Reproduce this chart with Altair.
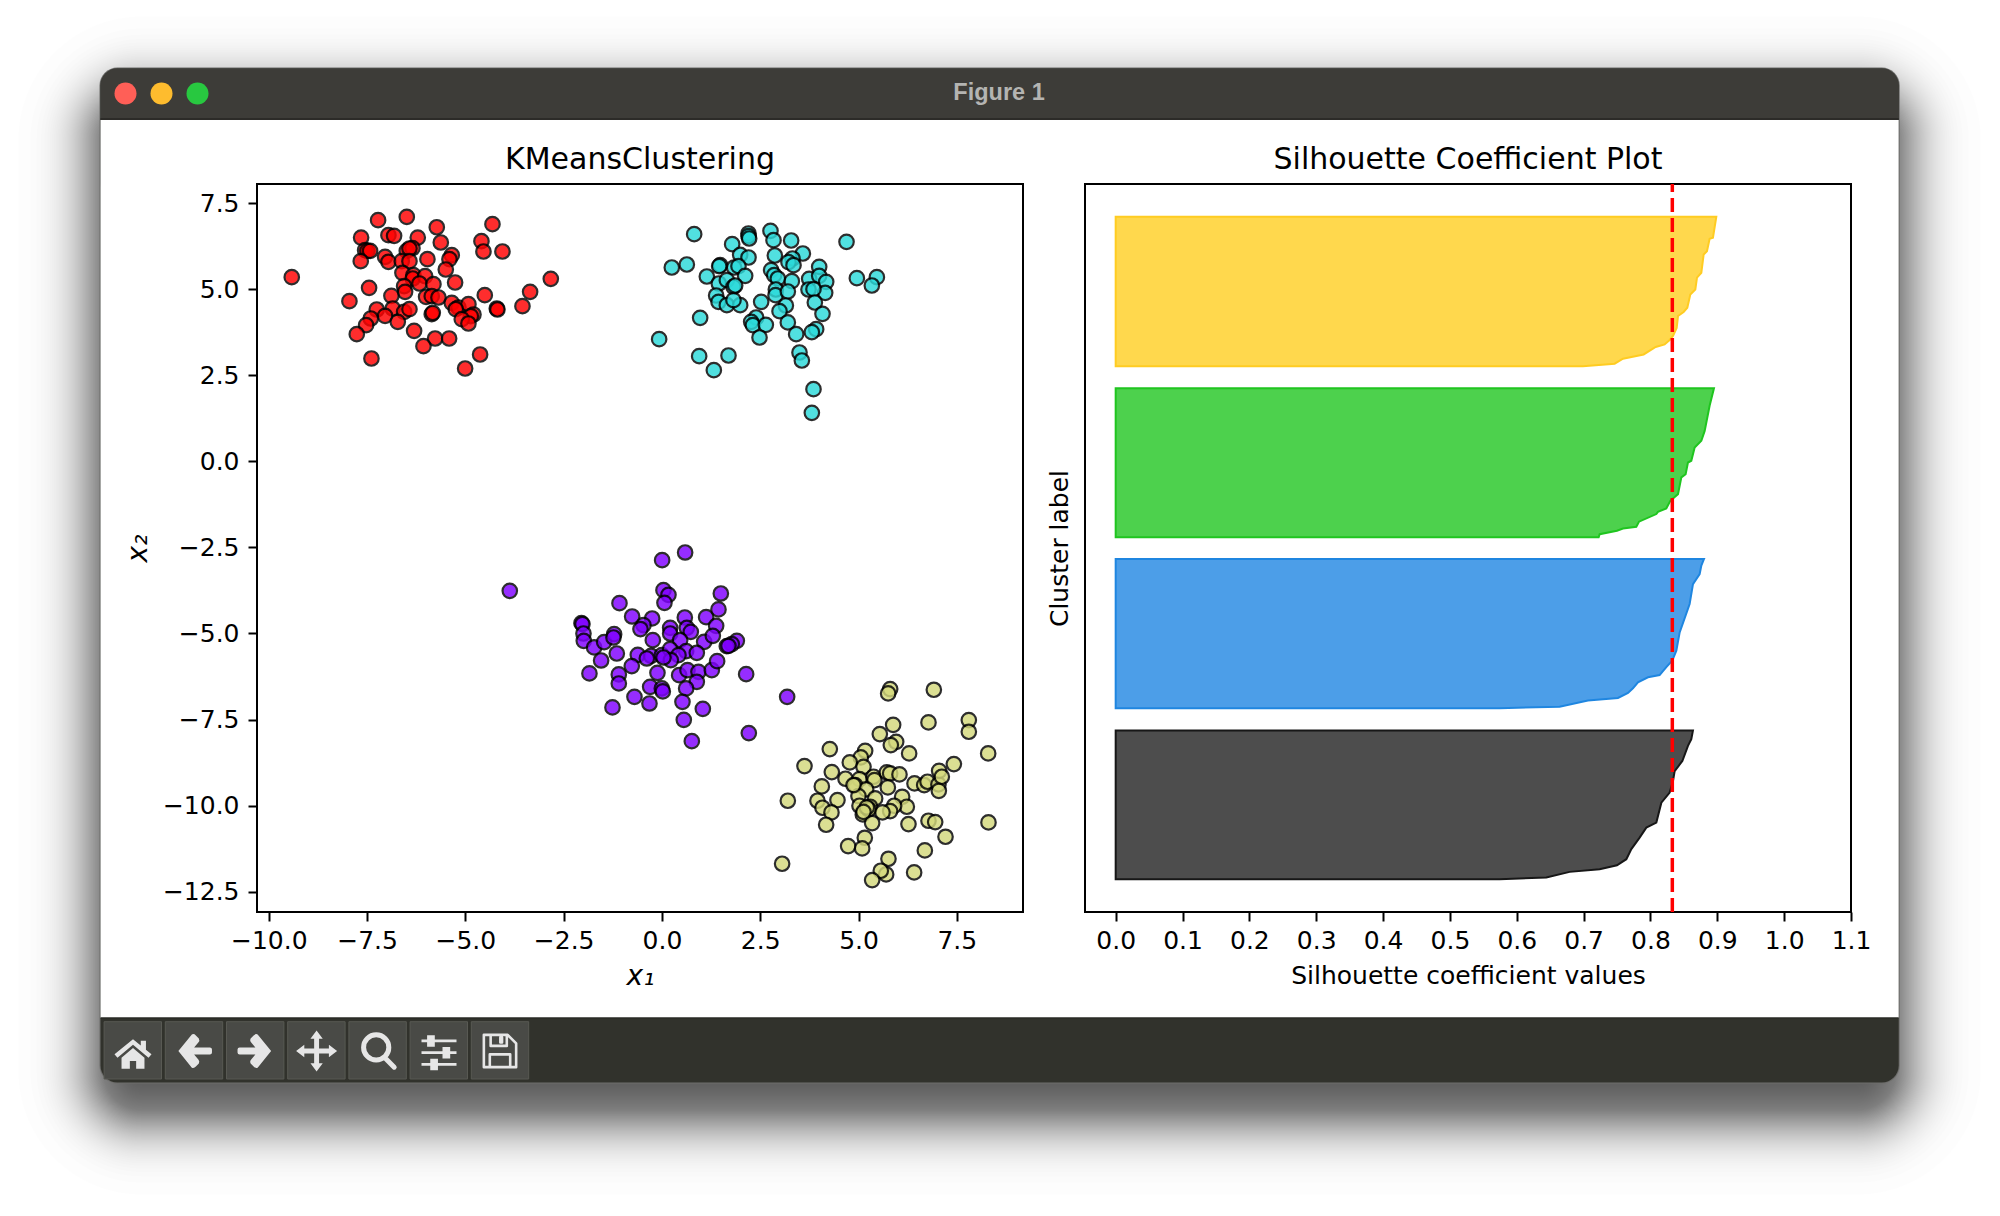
import statistics
import altair as alt
import pandas as pd

# ---- scatter values, one pair of arrays per cluster ----
red_x = [-9.416,-7.22,-6.49,-5.727,-4.311,-7.652,-6.957,-6.813,-6.211,-5.625,-4.591,-4.54,-4.057,-7.55,-7.491,-7.423,-7.661,-7.042,-6.957,-6.49,-6.346,-6.422,-6.618,-6.422,-5.965,-5.346,-5.405,-5.498,-6.601,-6.321,-6.338,-6.024,-6.168,-5.812,-5.261,-6.558,-7.449,-6.533,-6.881,-7.949,-5.999,-5.855,-5.685,-4.506,-2.827,-3.353,-3.548,-4.201,-4.184,-5.346,-5.176,-4.922,-4.794,-4.862,-5.244,-5.091,-4.922,-7.254,-6.847,-6.558,-6.422,-7.042,-6.719,-7.406,-7.525,-7.762,-5.855,-5.829,-6.304,-5.77,-5.413,-6.066,-4.625,-5.006,-7.389]
red_y = [5.35,7.005,7.10,6.80,6.89,6.50,6.57,6.55,6.50,6.357,6.396,6.095,6.095,6.134,6.115,6.115,5.815,5.941,5.795,6.115,6.192,6.183,5.815,5.815,5.873,5.989,5.873,5.573,5.476,5.408,5.311,5.379,5.166,5.147,5.195,5.088,5.04,4.924,4.808,4.653,4.779,4.798,4.759,4.827,5.301,4.924,4.507,4.44,4.411,4.604,4.469,4.566,4.265,4.217,4.42,4.13,4.004,4.411,4.44,4.343,4.42,4.227,4.052,4.149,3.956,3.694,4.275,4.314,3.791,3.568,3.568,3.346,3.104,2.697,2.987]
cyan_x = [0.82,0.251,0.633,1.786,1.99,2.202,2.202,2.219,2.202,2.761,2.838,3.287,2.872,3.584,3.321,3.219,3.347,4.695,4.0,4.958,5.467,5.339,1.142,1.481,1.456,1.837,1.947,2.117,1.447,1.651,1.82,1.863,1.379,1.439,1.651,1.99,1.82,0.972,-0.071,0.947,1.693,1.32,2.524,2.778,2.855,2.948,3.304,3.745,4.0,4.178,4.152,3.728,3.855,2.897,2.889,3.202,3.152,2.991,3.889,4.084,3.202,2.397,2.27,2.312,2.643,2.482,3.414,3.923,3.813,3.499,3.559,3.855,3.813]
cyan_y = [6.60,5.631,5.718,6.308,5.998,6.618,6.541,6.473,5.921,6.695,6.424,6.415,5.979,6.037,5.892,5.785,5.698,6.376,5.65,5.321,5.35,5.108,5.369,5.698,5.669,5.631,5.669,5.389,5.166,5.263,5.069,5.108,4.817,4.633,4.536,4.536,4.682,4.169,3.549,3.055,3.075,2.649,4.633,5.553,5.408,5.311,5.234,5.301,5.389,5.215,4.895,4.992,5.002,4.992,4.827,4.934,4.527,4.363,4.614,4.285,4.034,4.179,4.053,3.956,3.965,3.597,3.694,3.839,3.752,3.162,2.929,2.097,1.409]
purple_x = [-3.87,0.59,0.005,0.039,0.166,0.064,-1.08,1.498,1.438,-0.758,-0.249,-0.47,-0.546,0.582,1.124,1.379,0.209,0.209,0.633,0.734,-2.047,-2.022,-1.996,-1.988,-1.725,-1.47,-1.216,-1.233,-1.148,-1.547,-1.844,-0.232,0.463,1.074,1.294,1.905,1.777,1.65,1.693,-0.614,-0.275,-0.385,-0.003,0.209,0.616,0.887,0.421,0.226,0.039,-0.767,-0.114,0.438,0.65,0.929,1.269,1.404,0.887,0.616,-1.097,-1.097,-0.699,-0.3,-0.003,0.022,-0.317,-1.258,0.522,1.04,0.556,0.76,2.142,3.185,2.21]
purple_y = [-3.76,-2.647,-2.87,-3.741,-3.877,-4.109,-4.119,-3.838,-4.302,-4.506,-4.564,-4.758,-4.873,-4.535,-4.525,-4.777,-4.835,-5.0,-4.835,-4.951,-4.7,-4.728,-5.0,-5.213,-5.406,-5.251,-5.019,-5.116,-5.581,-5.784,-6.161,-5.193,-5.193,-5.242,-5.068,-5.213,-5.309,-5.368,-5.358,-5.619,-5.648,-5.726,-5.629,-5.455,-5.513,-5.561,-5.629,-5.774,-5.697,-5.948,-6.142,-6.21,-6.065,-6.113,-6.065,-5.803,-6.403,-6.597,-6.19,-6.452,-6.839,-6.549,-6.597,-6.684,-7.033,-7.149,-6.984,-7.188,-7.507,-8.127,-6.181,-6.839,-7.894]
olive_x = [5.805,5.754,6.916,5.881,5.542,6.78,7.806,7.806,5.958,5.822,6.288,8.298,4.27,3.626,5.169,5.059,4.779,5.127,4.321,4.669,4.067,5.025,5.381,5.406,5.72,5.805,6.042,4.915,5.194,5.746,6.424,6.67,6.755,7.034,7.051,7.119,7.043,7.425,4.999,4.465,3.956,4.083,4.312,3.202,4.177,5.423,5.296,5.025,5.109,5.262,6.11,6.229,5.907,5.805,5.61,5.347,6.271,6.78,6.95,8.306,7.213,5.16,4.736,5.093,6.687,5.762,3.057,6.415,5.703,5.567,5.347,4.872,5.211,5.126]
olive_y = [-6.616,-6.742,-6.635,-7.652,-7.923,-7.584,-7.516,-7.855,-8.146,-8.242,-8.484,-8.484,-8.359,-8.852,-8.407,-8.601,-8.746,-8.872,-9.027,-9.22,-9.443,-9.23,-9.162,-9.259,-9.036,-9.065,-9.094,-9.404,-9.53,-9.472,-9.356,-9.404,-9.307,-9.385,-8.988,-9.162,-9.569,-8.794,-9.724,-9.84,-9.859,-10.062,-10.198,-9.859,-10.556,-9.791,-10.033,-10.004,-10.256,-10.111,-9.743,-10.033,-10.004,-10.159,-10.198,-10.508,-10.537,-10.44,-10.479,-10.488,-10.905,-10.934,-11.176,-11.244,-11.302,-11.544,-11.689,-11.941,-11.999,-11.892,-12.163,-9.404,-10.053,-10.18]

scatter_names = ["purple", "olive", "cyan", "red"]
scatter_colors = ["#7f00ff", "#d4d97c", "#2bdada", "#ff0000"]

# ---- silhouette values: (sample position, coefficient) per cluster ----
black_pos = [10,10.9,13.7,15,17,20,25,30.7,35.7,38.2,48.1,53.1,58.9,63.8,68.8,76.3,79.6,84]
black_val = [.5744,.6442,.6791,.7240,.7499,.7639,.7714,.7838,.7938,.8088,.8163,.8287,.8337,.8362,.8477,.8561,.8611,.8636]
blue_pos = [95,95.8,98.8,100.1,102.6,104.9,107.9,110.4,111.5,115.4,118.7,123.6,132.7,146.8,156.7,161.7,165.9,169.2]
blue_val = [.5744,.6641,.7065,.7514,.7664,.7738,.7813,.7963,.8137,.8237,.8327,.8387,.8437,.8586,.8636,.8736,.8761,.8801]
green_pos = [180,181.5,183.2,184.3,185.2,187.7,191.5,192.6,194.3,198.1,201.4,209.7,211.3,217.1,218,224.6,227.9,232.8,245.3,254]
green_val = [.7225,.724,.7499,.7589,.7788,.7828,.8088,.8112,.8237,.8297,.8412,.8462,.8526,.8561,.8611,.8661,.8761,.8811,.8885,.895]
gold_pos = [265,266.2,268.7,270.8,274.5,275.8,278,280,284,289.9,291.9,294,300.6,303.1,309,311.4,320.5,322.1,328.3,328.8,339.2]
gold_val = [.699,.7464,.7589,.7898,.8078,.8212,.8287,.8337,.8392,.8412,.8496,.8551,.8596,.8671,.8696,.8761,.8796,.8845,.8885,.8935,.8985]
silhouette_mean = 0.8327

band_names = ["c0", "c1", "c2", "c3"]
band_fill = ["#4d4d4d", "#4c9ee8", "#4dd14d", "#ffd84d"]
band_line = ["#171717", "#1f86e0", "#1fc51f", "#ffcc22"]

x1_ticks = [-10, -7.5, -5, -2.5, 0, 2.5, 5, 7.5]
x2_ticks = [-12.5, -10, -7.5, -5, -2.5, 0, 2.5, 5, 7.5]
sil_ticks = [0, .1, .2, .3, .4, .5, .6, .7, .8, .9, 1.0, 1.1]

FONT = "DejaVu Sans"
PW, PH = 766, 728          # each panel's plot area
GAP = 62

points = pd.concat([
    pd.DataFrame({"a": xs, "b": ys, "c": n})
    for xs, ys, n in [(purple_x, purple_y, "purple"), (olive_x, olive_y, "olive"),
                      (cyan_x, cyan_y, "cyan"), (red_x, red_y, "red")]
])
bands = pd.concat([
    pd.DataFrame({"pos": p, "val": v, "zero": 0.0, "c": n})
    for p, v, n in [(black_pos, black_val, "c0"), (blue_pos, blue_val, "c1"),
                    (green_pos, green_val, "c2"), (gold_pos, gold_val, "c3")]
])

axis_style = dict(domain=False, grid=False, format=".1f", tickSize=9, tickWidth=2, tickColor="#000",
                  labelFlush=False, labelOverlap=False,
                  labelFont=FONT, labelFontSize=25, labelColor="#000",
                  titleFont=FONT, titleFontSize=25, titleColor="#000", titleFontWeight="normal")
frame = alt.ViewBackground(stroke="#000", strokeWidth=2, fill="transparent")


def panel_title(text, offset):
    return alt.Title(text, font=FONT, fontSize=30, fontWeight="normal", color="#000", offset=offset)


x1_style = {**axis_style, "titleFontSize": 28}
x2_style = {**axis_style, "titleFontSize": 28}
left = alt.Chart(points).mark_point(filled=False, size=210, strokeWidth=2.2, opacity=0.82).encode(
    x=alt.X("a:Q", scale=alt.Scale(domain=[-10.30, 9.184], nice=False, zero=False),
            axis=alt.Axis(values=x1_ticks, title="x₁", titleFontStyle="italic", labelPadding=7,
                          titlePadding=9, **x1_style)),
    y=alt.Y("b:Q", scale=alt.Scale(domain=[-13.09, 8.056], nice=False, zero=False),
            axis=alt.Axis(values=x2_ticks, title="x₂", titleFontStyle="italic", labelPadding=9,
                          titlePadding=10, **x2_style)),
    fill=alt.Fill("c:N", scale=alt.Scale(domain=scatter_names, range=scatter_colors), legend=None),
    stroke=alt.value("#000"),
).properties(width=PW, height=PH, view=frame, title=panel_title("KMeansClustering", 9))

sil_x = alt.X("val:Q", stack=None, scale=alt.Scale(domain=[-0.0459, 1.1], nice=False, zero=False),
              axis=alt.Axis(values=sil_ticks, title="Silhouette coefficient values", labelPadding=7,
                            titlePadding=10, **axis_style))
sil_y = alt.Y("pos:Q", scale=alt.Scale(domain=[-6.24, 355.5], nice=False, zero=False),
              axis=alt.Axis(labels=False, ticks=False, domain=False, grid=False, title="Cluster label",
                            titleFont=FONT, titleFontSize=25, titleColor="#000", titleFontWeight="normal",
                            titlePadding=13))
area = alt.Chart(bands).mark_area(orient="horizontal", strokeWidth=2, interpolate="linear").encode(
    x=sil_x,
    x2=alt.X2("zero:Q"),
    y=sil_y,
    fill=alt.Fill("c:N", scale=alt.Scale(domain=band_names, range=band_fill), legend=None),
    stroke=alt.Stroke("c:N", scale=alt.Scale(domain=band_names, range=band_line), legend=None),
)
mean_rule = alt.Chart(pd.DataFrame({"val": [silhouette_mean]})).mark_rule(
    color="#ff0000", strokeWidth=3.5, strokeDash=[14, 6]
).encode(x=alt.X("val:Q"), y=alt.value(PH), y2=alt.value(0))
right = alt.layer(area, mean_rule).properties(width=PW, height=PH, view=frame,
                                              title=panel_title("Silhouette Coefficient Plot", 7))

# ---- the window drawn behind the two panels, in reference-picture pixels ----
OX = 257 - GAP - 1
OY = 184


def rr(x0, y0, x1, y1, color, r=0.0, **kw):
    return alt.Chart().mark_rect(color=color, cornerRadius=r, **kw).encode(
        x=alt.value(x0 - OX), x2=alt.value(x1 - OX), y=alt.value(y0 - OY), y2=alt.value(y1 - OY))


def dot(cx, cy, color):
    return alt.Chart().mark_point(filled=True, size=484, color=color, opacity=1).encode(
        x=alt.value(cx - OX), y=alt.value(cy - OY))


def icon(path, cx, cy, px, filled=True, sw=0.0):
    kw = dict(fill="#e6e6e6", stroke="#e6e6e6", fillOpacity=1) if filled else dict(fill="transparent", stroke="#e6e6e6")
    return alt.Chart().mark_point(shape=path, size=px * px, filled=filled, opacity=1, strokeWidth=sw,
                                  strokeJoin="round", strokeCap="round", **kw).encode(
        x=alt.value(cx - OX), y=alt.value(cy - OY))


WX0, WY0, WX1, WY1 = 100.5, 68.5, 1898.7, 1082.5
SIG, DY, SPREAD, N = 30.0, 30.0, 4.0, 110
a_each = 1 - (1 - 0.56) ** (1 / N)
nd = statistics.NormalDist()
layers = [rr(8, 8, 1988, 1204, "#ffffff")]
for i in range(N):
    d = SIG * nd.inv_cdf((N - i - 0.5) / N)  # widest first; d>0 outward
    layers.append(rr(WX0 - SPREAD - d, WY0 + DY - SPREAD - d, WX1 + SPREAD + d, WY1 + DY + SPREAD + d,
                     "#000000", r=max(8.0, 45 + d), opacity=a_each))

layers += [
    rr(WX0 - 1, WY0 - 1, WX1 + 1, WY1 + 1, "#6e6e6c", r=18),
    rr(WX0, WY0, WX1, WY1, "#31322c", r=17),
    rr(WX0, WY0, WX1, 200, "#3d3c38", r=17),
    rr(WX0, 118, WX1, 120, "#2c2b28"),
    rr(WX0, 120, WX1, 1018.3, "#ffffff"),
    rr(WX0, 1017.3, WX1, 1019, "#2a2b26"),
    dot(125.5, 93.5, "#ff5f57"),
    dot(161.5, 93.5, "#febc2e"),
    dot(197.5, 93.5, "#28c840"),
    alt.Chart().mark_text(text="Figure 1", font="Liberation Sans", fontWeight="bold", fontSize=23.5,
                          color="#b4b4b2", align="center", baseline="middle").encode(
        x=alt.value(999 - OX), y=alt.value(93 - OY)),
]
for i in range(7):
    bx = 104.1 + 61.2 * i
    layers.append(rr(bx, 1021.7, bx + 57.4, 1079, "#494a46", stroke="#585953", strokeWidth=1))

HOME = "M0 -.8L1 .02L.84 .2L0 -.5L-.84 .2L-1 .02Z M-.62 .2L0 -.32L.62 .2V.8H.17V.38H-.17V.8H-.62Z M.42 -.72H.7V-.2L.42 -.42Z"
BACK = "M-.95 0L-.18 -.95Q-.05 -1 .05 -.88L.22 -.72Q.28 -.6 .2 -.5L-.05 -.2H.85Q.97 -.2 .97 -.08V.08Q.97 .2 .85 .2H-.05L.2 .5Q.28 .6 .22 .72L.05 .88Q-.05 1 -.18 .95Z"
FWD = "M.95 0L.18 -.95Q.05 -1 -.05 -.88L-.22 -.72Q-.28 -.6 -.2 -.5L.05 -.2H-.85Q-.97 -.2 -.97 -.08V.08Q-.97 .2 -.85 .2H.05L-.2 .5Q-.28 .6 -.22 .72L-.05 .88Q.05 1 .18 .95Z"
MOVE = "M0 -1L.3 -.6H.12V-.12H.6V-.3L1 0L.6 .3V.12H.12V.6H.3L0 1L-.3 .6H-.12V.12H-.6V.3L-1 0L-.6 -.3V-.12H-.12V-.6H-.3Z"
LENS = "M.38 .38L.9 .9M.6 -.2A.7 .7 0 1 0 -.8 -.2A.7 .7 0 1 0 .6 -.2Z"
SLIDE = "M-1 -.75H1V-.59H-1Z M-1 -.08H1V.08H-1Z M-1 .59H1V.75H-1Z M-.68 -1H-.24V-.34H-.68Z M.2 -.33H.64V.33H.2Z M-.5 .34H-.06V1H-.5Z"
SAVE = "M-.95 -.95H.45L.95 -.45V.95H-.95Z M-.55 -.95V-.3H.4V-.95 M.02 -.8V-.5 M.12 -.8V-.5 M-.6 .95V.2H.6V.95"

layers += [
    icon(HOME, 133, 1054, 37),
    icon(BACK, 195, 1051, 35),
    icon(FWD, 254.5, 1051, 35),
    icon(MOVE, 316.6, 1051, 41),
    icon(LENS, 378, 1051, 36, filled=False, sw=5),
    icon(SLIDE, 439, 1052.7, 35),
    icon(SAVE, 500, 1051, 34, filled=False, sw=2.6),
]

window = alt.layer(*layers).properties(width=1, height=PH, view=alt.ViewBackground(strokeOpacity=0))

chart = alt.hconcat(window, left, right, spacing=GAP, bounds="flush", padding=0).resolve_scale(
    fill="independent", stroke="independent").configure_view(strokeOpacity=1)

chart.save("out.html", embed_options={"renderer": "svg", "actions": False})
